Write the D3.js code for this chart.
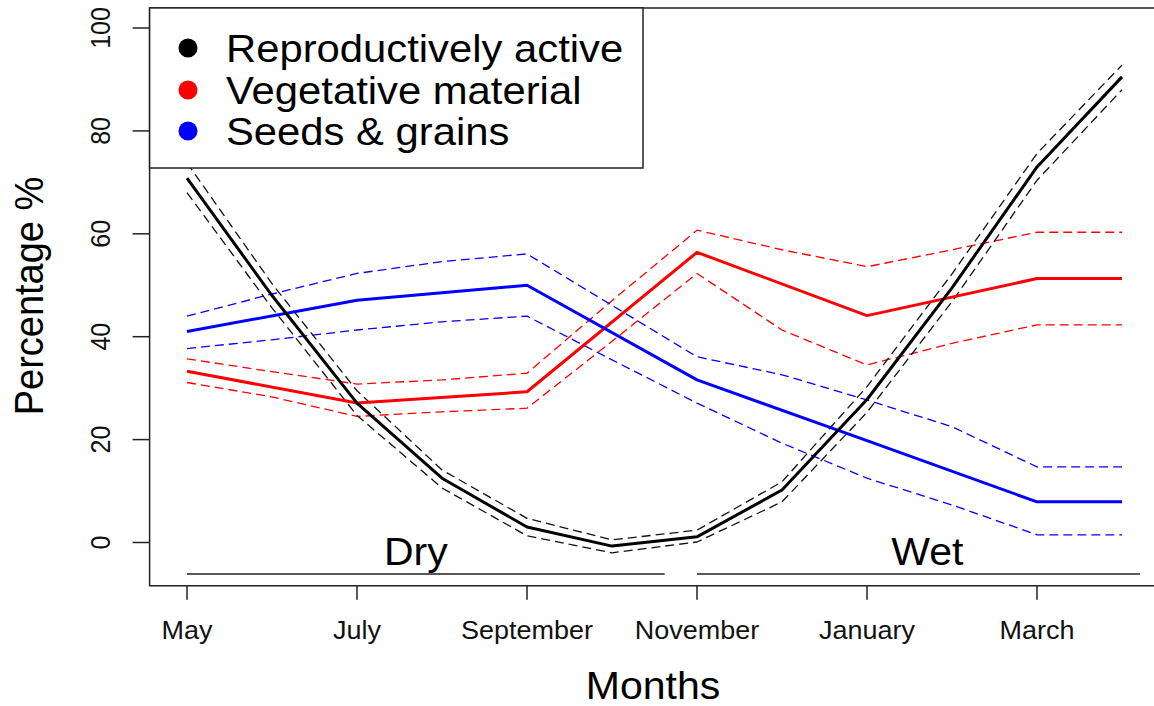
<!DOCTYPE html>
<html>
<head>
<meta charset="utf-8">
<script src="https://cdn.jsdelivr.net/npm/d3@7"></script>
<style>
  html, body { margin: 0; padding: 0; background: #fff; }
  svg { display: block; font-family: "Liberation Sans", Arial, sans-serif; }
</style>
</head>
<body>
<svg id="chart" width="1154" height="706"></svg>
<script>
// ---- data ----
const monthIdx = [0,1,2,3,4,5,6,7,8,9,10,11]; // May .. April
const tickIdx = [0,2,4,6,8,10];
const tickLabels = ["May","July","September","November","January","March"];
const yTicks = [0,20,40,60,80,100];

const reproMean  = [70.8, 48.0, 27.1, 12.5, 3.0, -0.7, 1.1, 10.2, 27.8, 49.5, 73.0, 90.5];
const reproUpper = [73.8, 50.3, 29.5, 14.1, 4.7, 0.5, 2.4, 11.8, 30.3, 52.2, 75.6, 92.8];
const reproLower = [68.0, 45.6, 24.7, 10.6, 1.3, -2.0, 0.1, 7.9, 25.3, 46.8, 70.4, 88.0];

const coarseIdx = [0,2,4,6,8,10,11];
const vegMean  = [33.3, 27.1, 29.3, 56.4, 44.1, 51.3, 51.3];
const vegUpper = [35.7, 33.2, 30.8, 31.6, 32.9, 47.0, 60.7, 56.9, 53.6, 56.9, 60.3, 60.3];
const vegLower = [31.1, 28.3, 24.5, 25.4, 26.1, 39.1, 52.3, 41.3, 34.5, 38.7, 42.3, 42.3];

const seedMean  = [41.0, 47.1, 50.0, 31.6, 19.8, 7.9, 7.9];
const seedUpper = [44.0, 48.3, 52.3, 54.6, 56.1, 46.1, 36.1, 32.6, 27.7, 22.5, 14.7, 14.7];
const seedLower = [37.7, 39.4, 41.3, 42.9, 44.0, 35.5, 27.1, 19.3, 12.5, 7.3, 1.5, 1.5];

const legendLabels = ["Reproductively active", "Vegetative material", "Seeds & grains"];
const legendColors = ["#000000", "#ff0000", "#0000ff"];
const seasons = [{label:"Dry", from:0, to:5.62}, {label:"Wet", from:6, to:11.21}];

// ---- scales ----
const svg = d3.select("#chart");
const x = d3.scaleLinear().domain([0, 11]).range([187, 1122]);
const y = d3.scaleLinear().domain([0, 100]).range([542.5, 28]);
const plotLeft = x(-0.44), plotRight = x(11.44);
const plotTop = y(103.9), plotBottom = y(-8.4);
const SX = 1.08;

// plot box (top and left/bottom visible)
svg.append("path")
  .attr("d", `M${plotRight},${plotTop}H${plotLeft}V${plotBottom}H${plotRight}`)
  .attr("fill","none").attr("stroke","#222").attr("stroke-width",1.5);

// y axis ticks
const yAxisG = svg.append("g");
yAxisG.selectAll("line").data(yTicks).join("line")
  .attr("x1", plotLeft - 17).attr("x2", plotLeft)
  .attr("y1", d => y(d)).attr("y2", d => y(d))
  .attr("stroke","#222").attr("stroke-width",1.5);
yAxisG.selectAll("text").data(yTicks).join("text")
  .attr("transform", d => `translate(110,${y(d)}) rotate(-90) scale(1,${SX})`)
  .attr("text-anchor","middle").attr("font-size",25).attr("fill","#111")
  .text(d => d);

// x axis ticks
const xAxisG = svg.append("g");
xAxisG.selectAll("line").data(tickIdx).join("line")
  .attr("x1", d => x(d)).attr("x2", d => x(d))
  .attr("y1", plotBottom).attr("y2", plotBottom + 14)
  .attr("stroke","#222").attr("stroke-width",1.5);
xAxisG.selectAll("text").data(tickIdx).join("text")
  .attr("transform", (d,i) => `translate(${x(d)},639) scale(${SX},1)`)
  .attr("text-anchor","middle").attr("font-size",25).attr("fill","#111")
  .text((d,i) => tickLabels[i]);

// axis titles
svg.append("text")
  .attr("transform", `translate(653,699) scale(${SX},1)`)
  .attr("text-anchor","middle").attr("font-size",38).attr("fill","#000")
  .text("Months");
svg.append("text")
  .attr("transform", `translate(43,296) rotate(-90) scale(1,${SX})`)
  .attr("text-anchor","middle").attr("font-size",38).attr("fill","#000")
  .text("Percentage %");

// season lines & labels
seasons.forEach(s => {
  svg.append("line")
    .attr("x1", x(s.from)).attr("x2", x(s.to))
    .attr("y1", 574).attr("y2", 574)
    .attr("stroke","#222").attr("stroke-width",1.5);
  svg.append("text")
    .attr("transform", `translate(${(x(s.from)+x(s.to))/2 + (s.label==="Dry"?-10:9)},565) scale(${SX},1)`)
    .attr("text-anchor","middle").attr("font-size",38).attr("fill","#000")
    .text(s.label);
});

// lines
const line = d3.line().x(d => x(d[0])).y(d => y(d[1]));
function drawLine(idx, vals, color, width, dash) {
  svg.append("path")
    .attr("d", line(idx.map((m,i) => [m, vals[i]])))
    .attr("fill","none").attr("stroke",color)
    .attr("stroke-width",width)
    .attr("stroke-dasharray", dash || null)
    .attr("stroke-linejoin","round");
}
const DASH = "9,5";
drawLine(monthIdx, vegUpper, "#ff0000", 1.3, DASH);
drawLine(monthIdx, vegLower, "#ff0000", 1.3, DASH);
drawLine(monthIdx, seedUpper, "#0000ff", 1.3, DASH);
drawLine(monthIdx, seedLower, "#0000ff", 1.3, DASH);
drawLine(monthIdx, reproUpper, "#111", 1.3, DASH);
drawLine(monthIdx, reproLower, "#111", 1.3, DASH);
drawLine(coarseIdx, vegMean, "#ff0000", 3);
drawLine(coarseIdx, seedMean, "#0000ff", 3);
drawLine(monthIdx, reproMean, "#000", 3);

// legend
const lg = svg.append("g");
lg.append("rect")
  .attr("x", plotLeft).attr("y", plotTop)
  .attr("width", 643 - plotLeft).attr("height", 168 - plotTop)
  .attr("fill","#fff").attr("stroke","#222").attr("stroke-width",1.5);
const rowY = [48, 90, 131];
legendLabels.forEach((lab, i) => {
  lg.append("circle").attr("cx",188).attr("cy",rowY[i]).attr("r",9.5)
    .attr("fill", legendColors[i]);
  lg.append("text")
    .attr("transform", `translate(226,${rowY[i]+13.6}) scale(1.1,1)`)
    .attr("font-size",38).attr("fill","#000")
    .text(lab);
});
</script>
</body>
</html>
